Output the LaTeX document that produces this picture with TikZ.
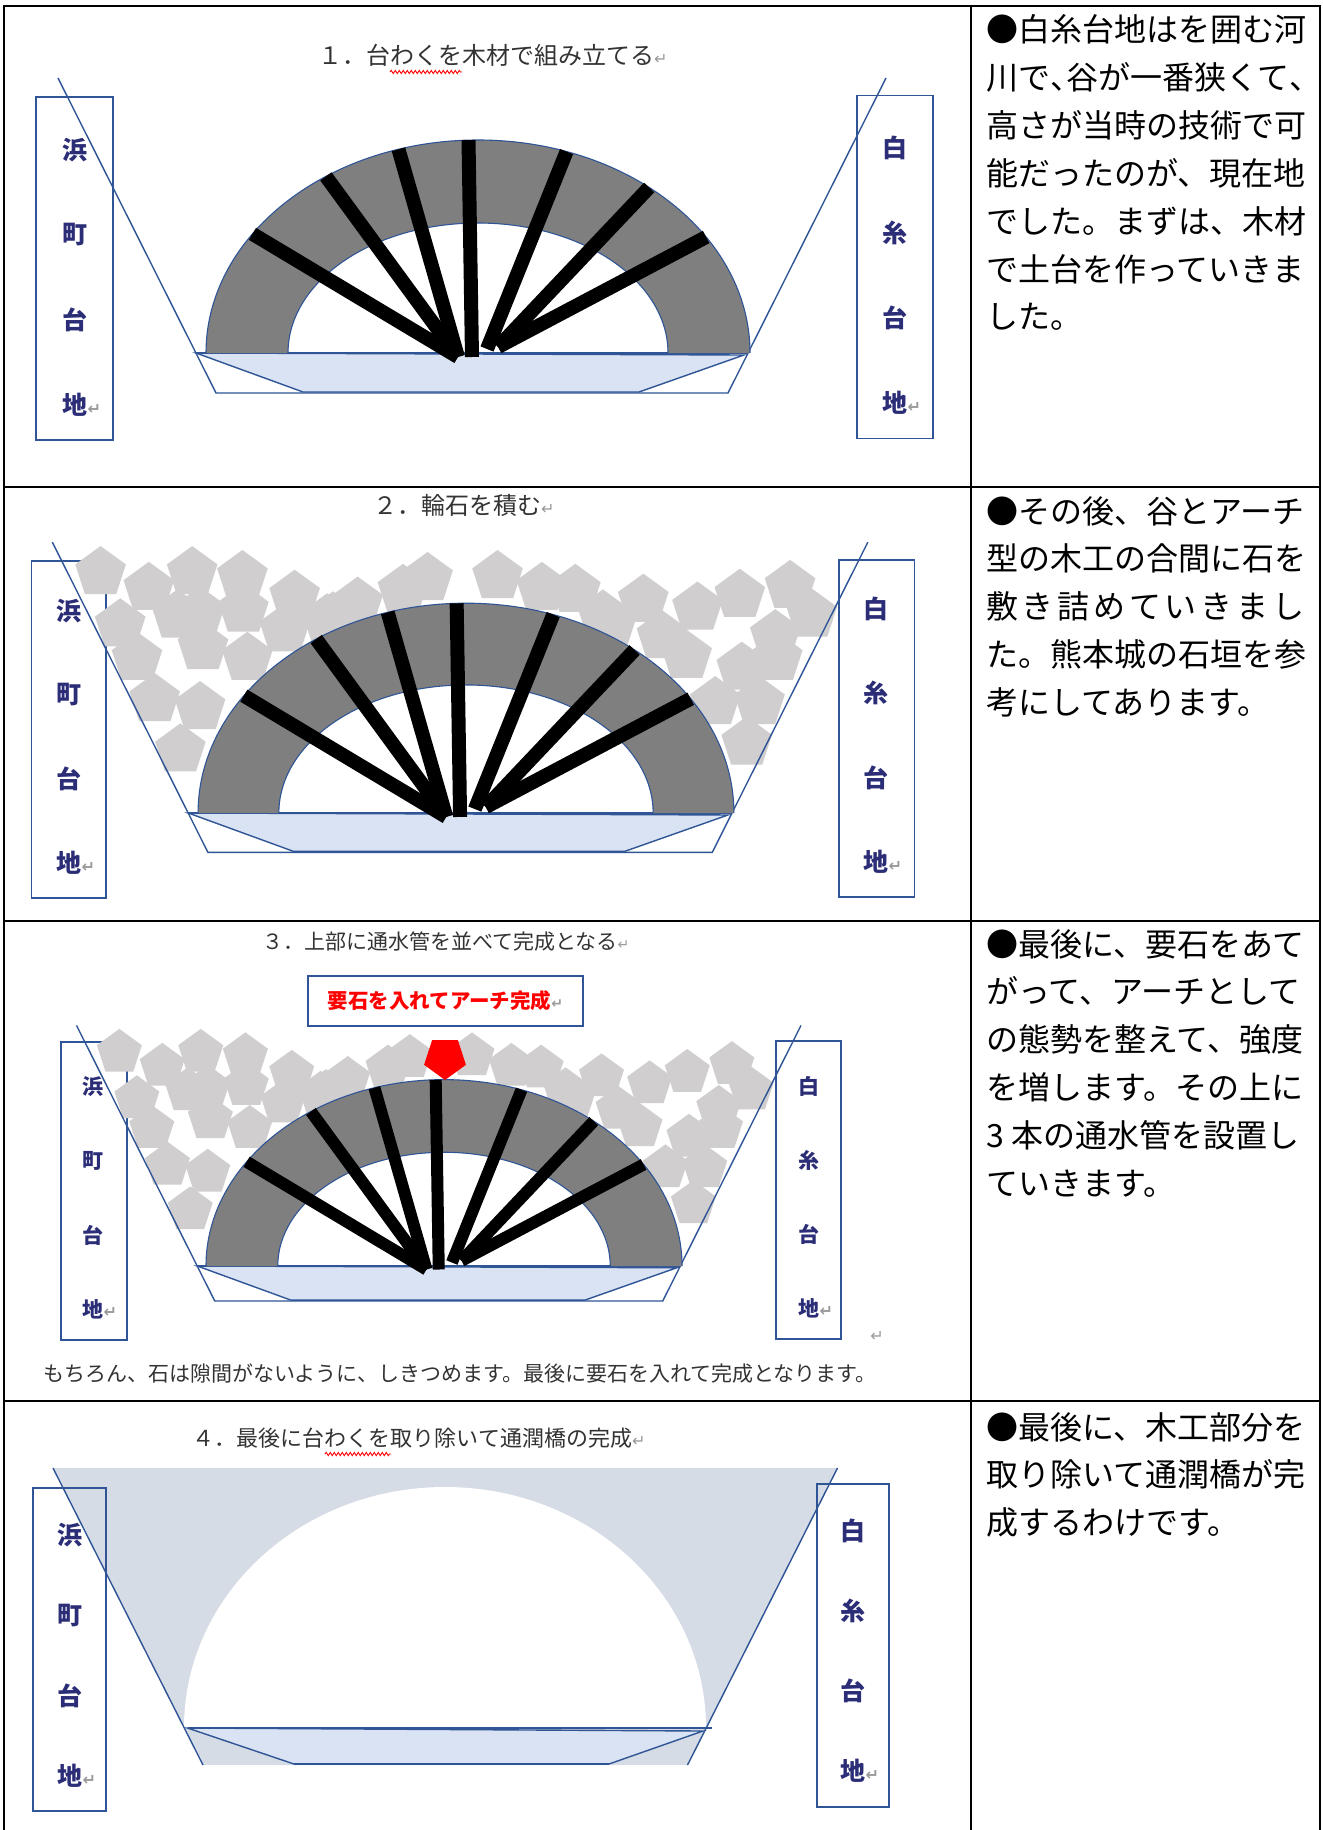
\documentclass[tikz,border=0pt]{standalone}
\usepackage{fontspec}
\setmainfont{Noto Sans CJK JP}
\newfontfamily\symfont{DejaVu Sans}
\usetikzlibrary{calc,positioning,shapes.geometric,decorations.pathmorphing}

\definecolor{lineblue}{HTML}{2F5597}
\definecolor{landnavy}{HTML}{2B2D77}
\definecolor{archgray}{HTML}{7F7F7F}
\definecolor{stonegray}{HTML}{D0CECE}
\definecolor{bedblue}{HTML}{DAE3F3}
\definecolor{valleyfill}{HTML}{D6DCE5}
\definecolor{titlegray}{HTML}{333333}

\newcommand\retmark[1][16pt]{{\symfont\fontsize{#1}{#1}\selectfont\color{gray!80}↵}}
\newcommand\halfcomma{\makebox[16pt][l]{、}}
\def\barw{14}
\def\landsize{25pt}

\tikzset{
    tableline/.style={line width=2.4pt, black},
    desc/.style={anchor=base west, inner sep=0pt, font=\fontsize{32pt}{48pt}\selectfont},
    steptitle/.style={anchor=west, inner sep=0pt, text=titlegray},
    landbox/.style={draw=lineblue, line width=1.6pt, inner sep=0pt},
    landchar/.style={inner sep=0pt, text=landnavy, font=\fontsize{\landsize}{\landsize}\selectfont\bfseries},
    valley/.style={draw=lineblue, line width=1.4pt},
    stone/.style={regular polygon, regular polygon sides=5, fill=stonegray, inner sep=0pt, minimum size=54pt},
    keystone/.style={regular polygon, regular polygon sides=5, shape border rotate=180, fill=red, inner sep=0pt, minimum size=44pt},
    spellmark/.style={red, line width=0.9pt, decorate, decoration={snake, amplitude=1.6pt, segment length=4pt}},
    % riverbed, valley sides and the timber frame, base centre at the origin
    bridge/.pic={
        \draw[valley] (-420,-275) -- (-262,40) -- (250,40) -- (408,-275);
        \draw[valley, fill=bedblue] (-282,0) -- (-175,39) -- (161,39) -- (266,2) -- cycle;
        \draw[valley] (-282,0) -- (270,0);
        \fill[archgray] (-272,0) arc[start angle=180, end angle=360, x radius=272, y radius=213]
            -- (190,0) arc[start angle=0, end angle=-180, x radius=190, y radius=130] -- cycle;
        \draw[valley, line width=1.1pt] (-272,0) arc[start angle=180, end angle=360, x radius=272, y radius=213];
        \draw[valley, line width=1.1pt] (190,0) arc[start angle=0, end angle=-180, x radius=190, y radius=130];
        \foreach \a/\bx/\by in {-146/-20/4, -124/-20/4, -107/-20/4, -92/-6/4, -71/9/-4, -51/20/-6, -33/20/-6}
            \draw[line width=\barw pt] (\bx,\by) -- (\a:272 and 213);
    }
}

% stones packed between the valley and the arch
\def\stonelist{-371/-244, -322/-228, -278/-244, -227/-240, -174/-220, -351/-191, -293/-200, -270/-203,
    -226/-206, -184/-186, -141/-196, -334/-157, -267/-168, -222/-157, -316/-115, -270/-107, -290/-64,
    -110/-213, -135/-198, -64/-226, -39/-238, 32/-240, 77/-228, 111/-226, 139/-200, 180/-216, 235/-208,
    278/-221, 329/-230, 199/-179, 224/-159, 351/-201, 314/-180, 316/-157, 280/-147, 253/-112, 298/-112,
    285/-71, 146/-186}

\newcommand\landtext[6]{%
    \foreach \ch [count=\i from 0] in {#5,#6,台,地\rlap{\retmark}}
        \node[landchar] (#1-\i) at (#2,#3+#4*\i) {\ch};
}

\begin{document}
\begin{tikzpicture}[x=1pt, y=-1pt]
    \useasboundingbox (0,0) rectangle (1322,1830);
    \fill[white] (0,0) rectangle (1322,1830);

    % step 1
    \node[steptitle, font=\fontsize{24pt}{24pt}\selectfont] (title1) at (318,55) {１．台わくを木材で組み立てる\retmark};
    \draw[spellmark] (390,72) -- (462,72);
    \node[landbox, minimum width=77pt, minimum height=343pt] (hama1) at (74.5,268.5) {};
    \node[landbox, minimum width=76pt, minimum height=343pt] (shirai1) at (895,267) {};
    \landtext{hama1}{75}{150}{85}{浜}{町}
    \landtext{shirai1}{895}{148}{85}{白}{糸}
    \pic at (478,353) {bridge};

    % step 2
    \node[steptitle, font=\fontsize{24pt}{24pt}\selectfont] (title2) at (373,505) {２．輪石を積む\retmark};
    \node[landbox, minimum width=74.5pt, minimum height=337pt] (hama2) at (68.75,729.5) {};
    \node[landbox, minimum width=75.5pt, minimum height=337pt] (shirai2) at (876.75,728.5) {};
    \landtext{hama2}{69}{611}{84}{浜}{町}
    \landtext{shirai2}{876}{609}{84.3}{白}{糸}
    \begin{scope}[shift={(466,813)}, scale=0.985, transform shape]
        \foreach \sx/\sy [count=\i] in \stonelist
            \node[stone] (stone2-\i) at (\sx,\sy) {};
    \end{scope}
    \pic[scale=0.985] at (466,813) {bridge};

    % step 3
    \def\barw{12}
    \def\landsize{21pt}
    \node[steptitle, font=\fontsize{21pt}{21pt}\selectfont] (title3) at (262,942) {３．上部に通水管を並べて完成となる\retmark[14pt]};
    \node[draw=lineblue, line width=1.2pt, minimum width=275pt, minimum height=50pt, inner sep=0pt,
        text=red, font=\fontsize{20.5pt}{20.5pt}\selectfont\bfseries] (kanamebox) at (445.5,1001) {要石を入れてアーチ完成\retmark[14pt]};
    \node[landbox, minimum width=66pt, minimum height=298pt] (hama3) at (94,1191) {};
    \node[landbox, minimum width=65pt, minimum height=298pt] (shirai3) at (808.5,1190) {};
    \landtext{hama3}{93}{1087}{74}{浜}{町}
    \landtext{shirai3}{809}{1086}{74}{白}{糸}
    \begin{scope}[shift={(444,1266)}, scale=0.875, transform shape]
        \foreach \sx/\sy [count=\i] in \stonelist
            \node[stone] (stone3-\i) at (\sx,\sy) {};
    \end{scope}
    \pic[scale=0.875] at (444,1266) {bridge};
    \node[keystone] (kaname) at (445,1058) {};
    \node[inner sep=0pt] (endmark3) at (877,1336) {\retmark};
    \node[steptitle, font=\fontsize{21pt}{21pt}\selectfont] (closing) at (43,1374)
        {もちろん、石は隙間がないように、しきつめます。最後に要石を入れて完成となります。};

    % step 4
    \def\landsize{25pt}
    \node[steptitle, font=\fontsize{22pt}{22pt}\selectfont] (title4) at (192.5,1438) {４．最後に台わくを取り除いて通潤橋の完成\retmark};
    \draw[spellmark] (325,1454) -- (391,1454);
    \fill[valleyfill] (53,1468) -- (837.5,1468) -- (687.5,1765) -- (203,1765) -- cycle;
    \fill[white] (184,1728) arc[start angle=180, end angle=360, x radius=261, y radius=241] -- cycle;
    \draw[valley] (53,1468) -- (203,1765);
    \draw[valley] (837.5,1468) -- (687.5,1765);
    \draw[valley, fill=bedblue] (187.5,1728) -- (294,1764) -- (609,1764) -- (703,1731) -- cycle;
    \draw[valley] (187.5,1728) -- (712,1728);
    \draw[lineblue, line width=2.6pt] (294,1764) -- (609,1764);
    \node[landbox, minimum width=73pt, minimum height=323pt] (hama4) at (69.5,1649.5) {};
    \node[landbox, minimum width=72pt, minimum height=323pt] (shirai4) at (853,1645.5) {};
    \landtext{hama4}{70}{1535.5}{80}{浜}{町}
    \landtext{shirai4}{853}{1531}{80}{白}{糸}

    % notes column
    \foreach \noteline [count=\i from 0] in {●白糸台地はを囲む河, 川で\halfcomma 谷が一番狭くて\halfcomma,
        高さが当時の技術で可, 能だったのが、現在地, でした。まずは、木材, で土台を作っていきま, した。}
        \node[desc] (note1-\i) at (986,42+47.8*\i) {\noteline};
    \foreach \noteline [count=\i from 0] in {●その後、谷とアーチ, 型の木工の合間に石を,
        \makebox[318pt][s]{敷\hfil き\hfil 詰\hfil め\hfil て\hfil い\hfil き\hfil ま\hfil し},
        た。熊本城の石垣を参, 考にしてあります。}
        \node[desc] (note2-\i) at (986,523+47.8*\i) {\noteline};
    \foreach \noteline [count=\i from 0] in {●最後に、要石をあて, がって、アーチとして,
        の態勢を整えて、強度, を増します。その上に, 3 本の通水管を設置し, ていきます。}
        \node[desc] (note3-\i) at (986,956+47.8*\i) {\noteline};
    \foreach \noteline [count=\i from 0] in {●最後に、木工部分を, 取り除いて通潤橋が完, 成するわけです。}
        \node[desc] (note4-\i) at (986,1439+47.8*\i) {\noteline};

    % table rules
    \draw[tableline] (4,1830) -- (4,6) -- (1320,6) -- (1320,1830);
    \draw[tableline] (971,6) -- (971,1830);
    \foreach \ry in {487,921,1401}
        \draw[tableline] (4,\ry) -- (1320,\ry);
\end{tikzpicture}
\end{document}
